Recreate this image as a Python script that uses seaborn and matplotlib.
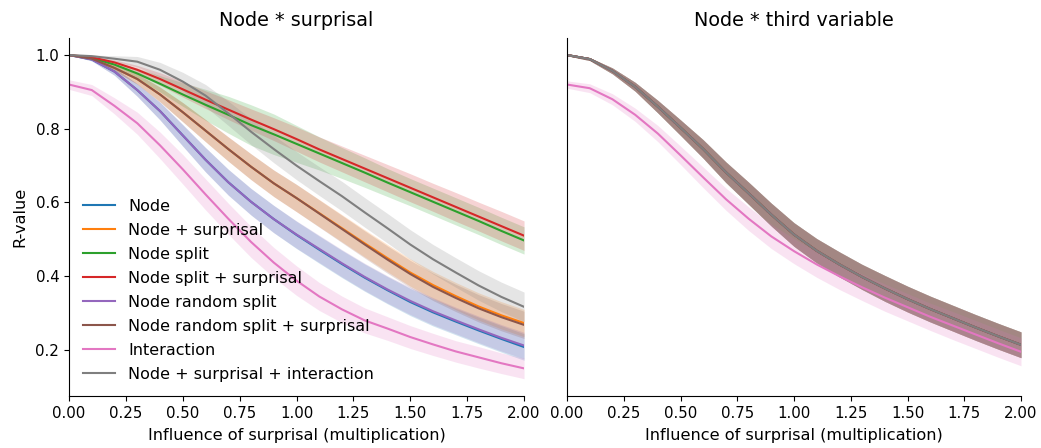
import numpy as np
import matplotlib
matplotlib.use("Agg")
import matplotlib.pyplot as plt
import seaborn as sns

# Influence of surprisal (multiplication factor)
x_vals = [0.0, 0.1, 0.2, 0.3, 0.4, 0.5, 0.6, 0.7, 0.8, 0.9, 1.0,
          1.1, 1.2, 1.3, 1.4, 1.5, 1.6, 1.7, 1.8, 1.9, 2.0]

labels = ["Node", "Node + surprisal", "Node split", "Node split + surprisal",
          "Node random split", "Node random split + surprisal",
          "Interaction", "Node + surprisal + interaction"]

# Panel 1: Node * surprisal (mean R-value per model)
node = [1.0, 0.988, 0.955, 0.905, 0.848, 0.782, 0.716, 0.655, 0.602, 0.555, 0.512,
        0.472, 0.433, 0.396, 0.362, 0.330, 0.302, 0.277, 0.253, 0.230, 0.208]
node_surprisal = [1.0, 0.990, 0.965, 0.935, 0.893, 0.845, 0.795, 0.745, 0.697, 0.652, 0.612,
                  0.571, 0.530, 0.489, 0.449, 0.410, 0.376, 0.346, 0.318, 0.294, 0.273]
node_split = [1.0, 0.992, 0.974, 0.950, 0.922, 0.893, 0.865, 0.838, 0.810, 0.785, 0.759,
              0.733, 0.707, 0.681, 0.654, 0.628, 0.602, 0.576, 0.550, 0.523, 0.497]
node_split_surprisal = [1.0, 0.994, 0.980, 0.960, 0.935, 0.907, 0.879, 0.852, 0.825, 0.799, 0.772,
                        0.744, 0.718, 0.692, 0.666, 0.640, 0.614, 0.588, 0.562, 0.536, 0.510]
node_random_split = [1.0, 0.988, 0.955, 0.905, 0.848, 0.782, 0.716, 0.655, 0.602, 0.555, 0.513,
                     0.474, 0.435, 0.398, 0.364, 0.333, 0.305, 0.280, 0.256, 0.233, 0.212]
node_random_split_surprisal = [1.0, 0.990, 0.965, 0.935, 0.893, 0.845, 0.795, 0.745, 0.697, 0.652, 0.612,
                               0.570, 0.528, 0.486, 0.445, 0.406, 0.371, 0.341, 0.313, 0.289, 0.268]
interaction = [0.920, 0.905, 0.862, 0.815, 0.755, 0.690, 0.622, 0.556, 0.493, 0.437, 0.388,
               0.345, 0.310, 0.280, 0.258, 0.235, 0.215, 0.196, 0.180, 0.164, 0.150]
node_surprisal_interaction = [1.0, 0.997, 0.990, 0.982, 0.960, 0.928, 0.890, 0.842, 0.792, 0.745, 0.700,
                              0.658, 0.617, 0.573, 0.530, 0.486, 0.446, 0.410, 0.375, 0.344, 0.317]

# Half-width of the uncertainty band per model
band_node = [0.0, 0.004, 0.010, 0.017, 0.024, 0.029, 0.033, 0.035, 0.036, 0.037, 0.037,
             0.037, 0.037, 0.037, 0.037, 0.037, 0.037, 0.036, 0.036, 0.036, 0.036]
band_surprisal = [0.0, 0.003, 0.008, 0.014, 0.020, 0.026, 0.030, 0.033, 0.035, 0.036, 0.037,
                  0.037, 0.037, 0.037, 0.037, 0.037, 0.037, 0.037, 0.037, 0.037, 0.037]
band_split = [0.0, 0.003, 0.008, 0.014, 0.022, 0.032, 0.042, 0.050, 0.055, 0.055, 0.050,
              0.045, 0.042, 0.040, 0.038, 0.037, 0.037, 0.037, 0.037, 0.037, 0.037]
band_split_surprisal = [0.0, 0.003, 0.007, 0.012, 0.017, 0.021, 0.024, 0.027, 0.029, 0.031, 0.033,
                        0.034, 0.035, 0.036, 0.037, 0.038, 0.038, 0.039, 0.039, 0.040, 0.040]
band_interaction = [0.013, 0.015, 0.022, 0.030, 0.036, 0.040, 0.042, 0.042, 0.042, 0.041, 0.040,
                    0.038, 0.036, 0.034, 0.032, 0.031, 0.030, 0.029, 0.029, 0.028, 0.028]
band_full = [0.0, 0.003, 0.008, 0.014, 0.020, 0.025, 0.030, 0.033, 0.035, 0.037, 0.038,
             0.039, 0.040, 0.040, 0.040, 0.040, 0.040, 0.040, 0.040, 0.040, 0.040]

# Panel 2: Node * third variable
third_node = [1.0, 0.989, 0.957, 0.914, 0.860, 0.803, 0.745, 0.682, 0.625, 0.567, 0.513,
              0.469, 0.432, 0.398, 0.367, 0.338, 0.311, 0.286, 0.261, 0.237, 0.214]
third_interaction = [0.920, 0.910, 0.880, 0.838, 0.787, 0.728, 0.668, 0.609, 0.556, 0.508, 0.468,
                     0.432, 0.400, 0.370, 0.342, 0.316, 0.290, 0.266, 0.242, 0.218, 0.195]
band_third_node = [0.002, 0.004, 0.008, 0.012, 0.017, 0.021, 0.025, 0.028, 0.030, 0.031, 0.032,
                   0.033, 0.034, 0.034, 0.035, 0.035, 0.035, 0.035, 0.035, 0.035, 0.035]
band_third_interaction = [0.010, 0.012, 0.015, 0.018, 0.022, 0.025, 0.028, 0.030, 0.032, 0.033, 0.034,
                          0.035, 0.036, 0.036, 0.037, 0.037, 0.037, 0.038, 0.038, 0.038, 0.038]

x_ticks = [0.0, 0.25, 0.5, 0.75, 1.0, 1.25, 1.5, 1.75, 2.0]
y_ticks = [0.2, 0.4, 0.6, 0.8, 1.0]

left_means = [node, node_surprisal, node_split, node_split_surprisal,
              node_random_split, node_random_split_surprisal, interaction,
              node_surprisal_interaction]
left_bands = [band_node, band_surprisal, band_split, band_split_surprisal,
              band_node, band_surprisal, band_interaction, band_full]
right_means = [third_node] * 6 + [third_interaction, third_node]
right_bands = [band_third_node] * 6 + [band_third_interaction, band_third_node]

palette = sns.color_palette("tab10")
colors = [palette[i] for i in range(8)]

fig = plt.figure(figsize=(10.41, 4.48), dpi=100)
ax1 = fig.add_axes([0.0663, 0.116, 0.4371, 0.799])
ax2 = fig.add_axes([0.5447, 0.116, 0.4361, 0.799], sharey=ax1)


def draw_panel(ax, means, bands, with_legend):
    for label, mean, band, color in zip(labels, means, bands, colors):
        m = np.asarray(mean)
        h = np.asarray(band)
        ax.fill_between(x_vals, m - h, m + h, color=color, alpha=0.2, linewidth=0)
        sns.lineplot(x=x_vals, y=mean, color=color, label=label if with_legend else None,
                     linewidth=1.5, errorbar=None, ax=ax, legend=with_legend)


draw_panel(ax1, left_means, left_bands, True)
draw_panel(ax2, right_means, right_bands, False)

for ax, title in [(ax1, "Node * surprisal"), (ax2, "Node * third variable")]:
    ax.set_xlim(0, 2)
    ax.set_xticks(x_ticks)
    ax.set_xticklabels([f"{t:.2f}" for t in x_ticks], fontsize=10.8)
    ax.set_xlabel("Influence of surprisal (multiplication)", fontsize=11.6, labelpad=5)
    ax.set_title(title, fontsize=13.8, pad=9)
    sns.despine(ax=ax)

ax1.set_ylim(0.075, 1.046)
ax1.set_yticks(y_ticks)
ax1.set_yticklabels([f"{t:.1f}" for t in y_ticks], fontsize=10.8)
ax1.set_ylabel("R-value", fontsize=11.6, labelpad=6)
ax2.tick_params(axis="y", left=False, labelleft=False)
ax2.set_ylabel("")

ax1.legend(loc="lower left", frameon=False, fontsize=11.5, labelspacing=0.56)

fig.savefig("out.png", dpi=100)
